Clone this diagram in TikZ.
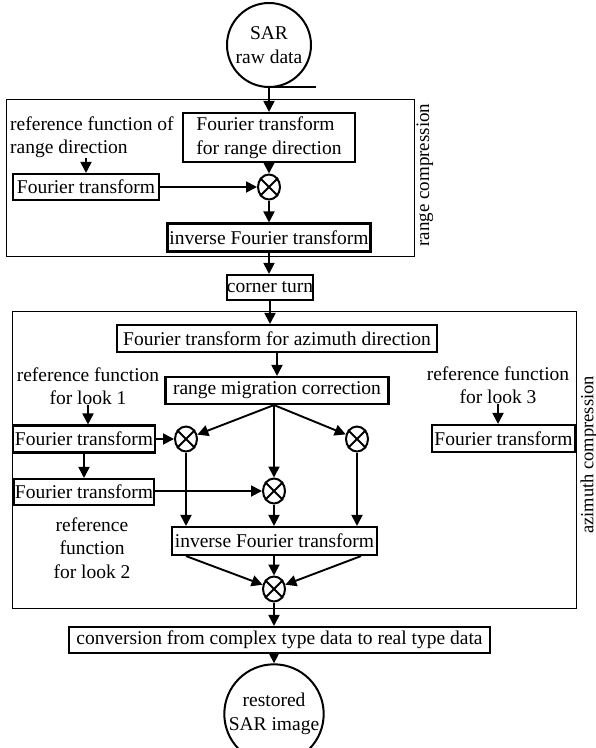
\documentclass[tikz,border=0pt]{standalone}
\usepackage{fontspec}
\setmainfont{Liberation Serif}
\usetikzlibrary{arrows.meta,shapes.geometric}
\begin{document}
\begin{tikzpicture}[x=1pt,y=-1pt,
  every node/.style={font=\fontsize{19.5}{23.5}\selectfont},
  box/.style={draw,line width=2.1pt,inner sep=0pt,align=center},
  lbl/.style={align=center,inner sep=0pt},
  mult/.style={draw,ellipse,line width=2pt,minimum width=22pt,minimum height=25pt,inner sep=0pt},
  arr/.style={line width=1.9pt,-{Triangle[length=11pt,width=11pt]}},
  framebox/.style={draw,line width=0.9pt},
  cross/.style={line width=1.8pt}]
\useasboundingbox (0,0) rectangle (596,748);
% frames
\draw[framebox] (6,99) rectangle (414,256);
\draw[framebox] (12,311) rectangle (576,608);
\node[lbl,rotate=90,font=\fontsize{19}{23}\selectfont] (rclab) at (425,175) {range compression};
\node[lbl,rotate=90,font=\fontsize{18.5}{23}\selectfont] (aclab) at (589,455) {azimuth compression};
% top
\node[draw,circle,line width=2pt,minimum size=84pt,inner sep=0pt,align=center] (sar) at (269,45) {SAR\\raw data};
\draw[line width=2pt] (265,87) -- (316,87);
\node[box,minimum width=172pt,minimum height=49pt,align=left] (ftr) at (269,137.5) {Fourier transform\\for range direction};
\node[lbl,align=left,anchor=west] (rrf) at (10,137) {reference function of\\range direction};
\node[box,minimum width=146pt,minimum height=26pt] (ft1) at (86,187) {Fourier transform};
\node[mult] (m1) at (269,187) {};
\node[box,minimum width=203pt,minimum height=28pt] (ift1) at (269,237.5) {inverse Fourier transform};
\node[box,minimum width=86pt,minimum height=25pt] (ct) at (270,287.5) {corner turn};
% azimuth
\node[box,minimum width=320pt,minimum height=27pt] (fta) at (277,338.5) {Fourier transform for azimuth direction};
\node[box,minimum width=223pt,minimum height=27pt] (rmc) at (277,390.5) {range migration correction};
\node[lbl] (rl1) at (88,386) {reference function\\for look 1};
\node[lbl] (rl3) at (498,385) {reference function\\for look 3};
\node[box,minimum width=142pt,minimum height=27pt] (fl1) at (84,439) {Fourier transform};
\node[box,minimum width=143pt,minimum height=27pt] (fl3) at (503.5,438.5) {Fourier transform};
\node[mult] (m2) at (186,439) {};
\node[mult] (m3) at (357,439) {};
\node[box,minimum width=140pt,minimum height=26pt] (fl2) at (84,492) {Fourier transform};
\node[mult] (m4) at (274,491) {};
\node[box,minimum width=205pt,minimum height=28pt] (ift2) at (274.5,541) {inverse Fourier transform};
\node[lbl] (rl2) at (92,548) {reference\\function\\for look 2};
\node[mult] (m5) at (274,589) {};
\node[box,minimum width=421pt,minimum height=26pt] (conv) at (279.5,640) {conversion from complex type data to real type data};
\node[draw,circle,line width=2pt,minimum size=90pt,inner sep=0pt,align=center] (out) at (274,714) {restored\\SAR image};
% crosses
\foreach \m in {m1,m2,m3,m4,m5}
  \draw[cross] (\m.45) -- (\m.225) (\m.135) -- (\m.315);
% connectors
\draw[arr] (sar.south) -- (sar.south |- ftr.north);
\draw[arr] (ftr.south) -- (m1.north);
\draw[arr] (rrf.south -| ft1.north) -- (ft1.north);
\draw[arr] (ft1.east |- m1) -- (m1.west);
\draw[arr] (m1.south) -- (m1.south |- ift1.north);
\draw[arr] (ift1.south) -- (ift1.south |- ct.north);
\draw[arr] (ct.south) -- (ct.south |- fta.north);
\draw[arr] (fta.south) -- (fta.south |- rmc.north);
\draw[arr] (rl1.south) -- (rl1.south |- fl1.north);
\draw[arr] (rl3.south) -- (rl3.south |- fl3.north);
\draw[arr] (fl1.east |- m2) -- (m2.west);
\draw[arr] (fl1.south) -- (fl1.south |- fl2.north);
\draw[arr] (fl2.east |- m4) -- (m4.west);
\draw[arr] (rmc.south -| m4) -- (m2);
\draw[arr] (rmc.south -| m4) -- (m3);
\draw[arr] (rmc.south -| m4) -- (m4.north);
\draw[arr] (m2.south) -- (m2.south |- ift2.north);
\draw[arr] (m4.south) -- (m4.south |- ift2.north);
\draw[arr] (m3.south) -- (m3.south |- ift2.north);
\path (ift2.south west) ++(15,0) coordinate (ifl);
\path (ift2.south east) ++(-17,0) coordinate (ifr);
\draw[arr] (ifl) -- (m5);
\draw[arr] (ift2.south -| m5) -- (m5.north);
\draw[arr] (ifr) -- (m5);
\draw[arr] (m5.south) -- (conv.north -| m5);
\draw[arr] (conv.south -| m5) -- (out.north);
\end{tikzpicture}
\end{document}
